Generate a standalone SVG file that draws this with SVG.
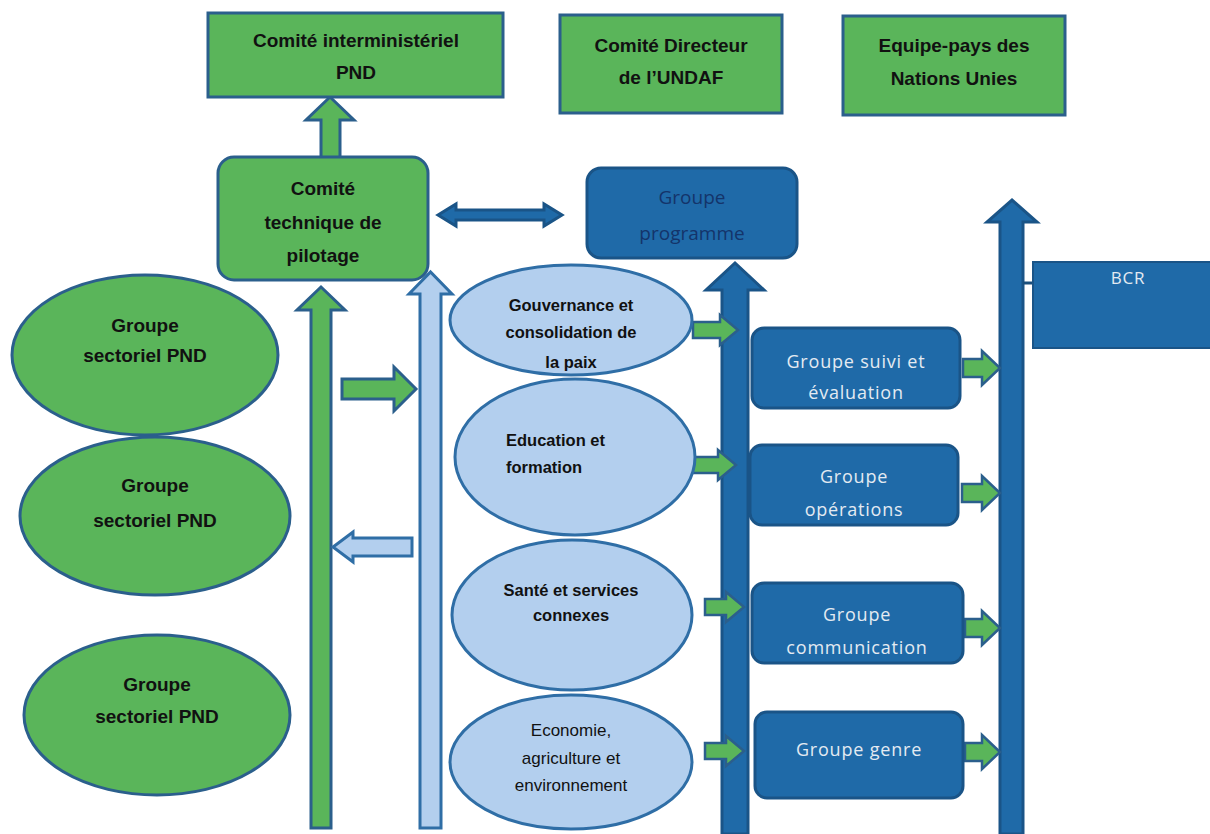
<svg xmlns="http://www.w3.org/2000/svg" width="1210" height="834" viewBox="0 0 1210 834">
<style>
.g{fill:#5ab55a;stroke:#2b5f8c;stroke-width:3}
.lb{fill:#b3cfee;stroke:#2f6ea6;stroke-width:3}
.db{fill:#1f6aa8;stroke:#1a5487;stroke-width:3}
.ga{fill:#5ab55a;stroke:#2b5f8c;stroke-width:2.5}
.t{font-family:"Liberation Sans",Arial,sans-serif;font-weight:bold;font-size:19px;fill:#111;text-anchor:middle}
.ts{font-family:"Liberation Sans",Arial,sans-serif;font-weight:bold;font-size:16.5px;fill:#111;text-anchor:middle}
.tn{font-family:"Liberation Sans",Arial,sans-serif;font-size:17px;fill:#111;text-anchor:middle}
.tw{font-family:"Open Sans",sans-serif;font-size:18px;fill:#e4eaf2;text-anchor:middle;letter-spacing:0.8px}
.tp{font-family:"Open Sans",sans-serif;font-size:19px;fill:#14346a;text-anchor:middle}
</style>
<rect width="1210" height="834" fill="#fff"/>
<g id="connectors">
<polygon class="g" points="321,158 321,120 306,120 330,97 354,120 340,120 340,158"/>
<polygon class="db" points="438,215 456,204 456,210 544,210 544,204 562,215 544,226 544,220 456,220 456,226"/>
<polygon class="g" points="311,828 311,310 297,310 321,287 345,310 331,310 331,828"/>
<polygon class="lb" points="420,828 420,294 409,294 430.5,272 452,294 441,294 441,828"/>
<polygon class="g" points="342,379 394,379 394,367 416,389 394,411 394,399 342,399"/>
<polygon class="lb" points="412,538 353,538 353,532 333,547 353,562 353,556 412,556"/>
<polygon class="db" points="722,834 722,290 706,290 735,263 764,290 748,290 748,834"/>
<polygon class="db" points="1000,834 1000,222 987,222 1012,200 1037,222 1023,222 1023,834"/>
<line x1="1023" y1="283" x2="1046" y2="283" stroke="#1b4f7c" stroke-width="3"/>
<polygon class="ga" points="693,322 720,322 720,315 738,330 720,345 720,338 693,338"/>
<polygon class="ga" points="690,457 718,457 718,450 736,465 718,480 718,473 690,473"/>
<polygon class="ga" points="705,599 726,599 726,592 744,607 726,622 726,615 705,615"/>
<polygon class="ga" points="705,743 726,743 726,736 744,751 726,766 726,759 705,759"/>
<polygon class="ga" points="963,359 982,359 982,351 1000,368 982,385 982,377 963,377"/>
<polygon class="ga" points="962,484 982,484 982,476 1000,493 982,510 982,502 962,502"/>
<polygon class="ga" points="965,619 982,619 982,611 1000,628 982,645 982,637 965,637"/>
<polygon class="ga" points="965,743 982,743 982,735 1000,752 982,769 982,761 965,761"/>
</g>
<g id="comite-interministeriel">
<rect class="g" x="208" y="13" width="295" height="84"/>
<text class="t" x="356" y="47">Comité interministériel</text>
<text class="t" x="356" y="79">PND</text>
</g>
<g id="comite-directeur">
<rect class="g" x="560" y="15" width="222" height="98"/>
<text class="t" x="671" y="52">Comité Directeur</text>
<text class="t" x="671" y="84">de l’UNDAF</text>
</g>
<g id="equipe-pays">
<rect class="g" x="843" y="16" width="222" height="99"/>
<text class="t" x="954" y="52">Equipe-pays des</text>
<text class="t" x="954" y="85">Nations Unies</text>
</g>
<g id="comite-technique">
<rect class="g" x="218" y="157" width="210" height="123" rx="16"/>
<text class="t" x="323" y="195">Comité</text>
<text class="t" x="323" y="229">technique de</text>
<text class="t" x="323" y="262">pilotage</text>
</g>
<g id="groupe-programme">
<rect class="db" x="587" y="168" width="210" height="90" rx="14"/>
<text class="tp" x="692" y="204">Groupe</text>
<text class="tp" x="692" y="240">programme</text>
</g>
<g id="sectoriel-1">
<ellipse class="g" cx="145" cy="355" rx="133" ry="80"/>
<text class="t" x="145" y="332">Groupe</text>
<text class="t" x="145" y="362">sectoriel PND</text>
</g>
<g id="sectoriel-2">
<ellipse class="g" cx="155" cy="516" rx="135" ry="79"/>
<text class="t" x="155" y="492">Groupe</text>
<text class="t" x="155" y="527">sectoriel PND</text>
</g>
<g id="sectoriel-3">
<ellipse class="g" cx="157" cy="715" rx="133" ry="80"/>
<text class="t" x="157" y="691">Groupe</text>
<text class="t" x="157" y="723">sectoriel PND</text>
</g>
<g id="gouvernance">
<ellipse class="lb" cx="571" cy="320" rx="121" ry="55"/>
<text class="ts" x="571" y="311">Gouvernance et</text>
<text class="ts" x="571" y="338">consolidation de</text>
<text class="ts" x="571" y="368">la paix</text>
</g>
<g id="education">
<ellipse class="lb" cx="575" cy="457" rx="120" ry="78"/>
<text class="ts" x="506" y="446" style="text-anchor:start">Education et</text>
<text class="ts" x="506" y="473" style="text-anchor:start">formation</text>
</g>
<g id="sante">
<ellipse class="lb" cx="572" cy="615" rx="120" ry="75"/>
<text class="ts" x="571" y="596">Santé et services</text>
<text class="ts" x="571" y="621">connexes</text>
</g>
<g id="economie">
<ellipse class="lb" cx="571" cy="762" rx="121" ry="67"/>
<text class="tn" x="571" y="736">Economie,</text>
<text class="tn" x="571" y="764">agriculture et</text>
<text class="tn" x="571" y="791">environnement</text>
</g>
<g id="suivi-evaluation">
<rect class="db" x="752" y="328" width="208" height="80" rx="12"/>
<text class="tw" x="856" y="368">Groupe suivi et</text>
<text class="tw" x="856" y="399">évaluation</text>
</g>
<g id="operations">
<rect class="db" x="750" y="445" width="208" height="80" rx="12"/>
<text class="tw" x="854" y="483">Groupe</text>
<text class="tw" x="854" y="516">opérations</text>
</g>
<g id="communication">
<rect class="db" x="752" y="583" width="211" height="80" rx="12"/>
<text class="tw" x="857" y="621">Groupe</text>
<text class="tw" x="857" y="654">communication</text>
</g>
<g id="genre">
<rect class="db" x="755" y="712" width="208" height="86" rx="12"/>
<text class="tw" x="859" y="756">Groupe genre</text>
</g>
<g id="bcr">
<rect x="1033" y="262" width="180" height="86" fill="#1f6aa8" stroke="#1a5487" stroke-width="2"/>
<text class="tw" x="1128" y="284" style="font-size:17px">BCR</text>
</g>
</svg>
